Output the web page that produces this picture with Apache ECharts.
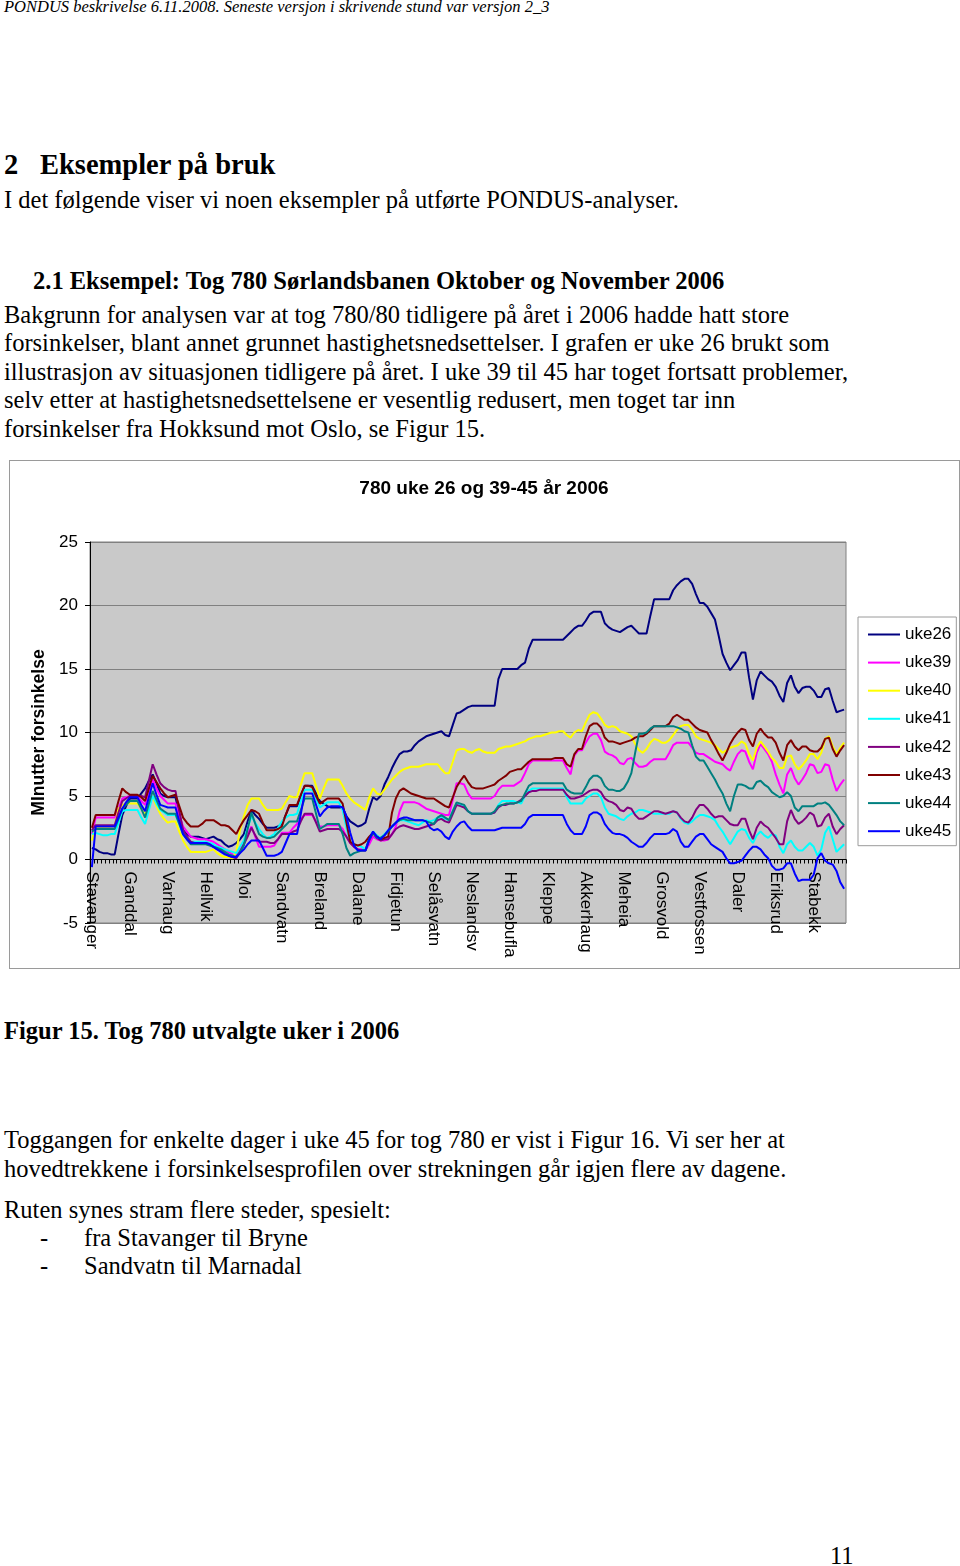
<!DOCTYPE html>
<html><head><meta charset="utf-8">
<script src="https://cdn.jsdelivr.net/npm/echarts@6/dist/echarts.min.js"></script>
<style>
html,body{margin:0;padding:0;background:#fff;}
body{width:960px;height:1566px;position:relative;overflow:hidden;font-family:"Liberation Serif","Times New Roman",serif;color:#000;}
.t{position:absolute;white-space:nowrap;font-size:24.5px;line-height:28px;}
.b{font-weight:bold;}
#frame{position:absolute;left:9px;top:460px;width:951px;height:509px;border:1px solid #9a9a9a;box-sizing:border-box;}
#chart{position:absolute;left:10px;top:461px;width:948px;height:506px;}
</style></head>
<body>
<div class="t" style="left:4px;top:-3px;font-size:16.5px;line-height:20px;font-style:italic;">PONDUS beskrivelse 6.11.2008. Seneste versjon i skrivende stund var versjon 2_3</div>
<div class="t b" style="left:4px;top:149px;font-size:28.5px;line-height:32px;">2</div>
<div class="t b" style="left:40px;top:149px;font-size:28.5px;line-height:32px;">Eksempler på bruk</div>
<div class="t" style="left:4px;top:186px;">I det følgende viser vi noen eksempler på utførte PONDUS-analyser.</div>
<div class="t b" style="left:33px;top:267px;">2.1 Eksempel: Tog 780 Sørlandsbanen Oktober og November 2006</div>
<div class="t" style="left:4px;top:301px;">Bakgrunn for analysen var at tog 780/80 tidligere på året i 2006 hadde hatt store</div>
<div class="t" style="left:4px;top:329px;">forsinkelser, blant annet grunnet hastighetsnedsettelser. I grafen er uke 26 brukt som</div>
<div class="t" style="left:4px;top:358px;">illustrasjon av situasjonen tidligere på året. I uke 39 til 45 har toget fortsatt problemer,</div>
<div class="t" style="left:4px;top:386px;">selv etter at hastighetsnedsettelsene er vesentlig redusert, men toget tar inn</div>
<div class="t" style="left:4px;top:415px;">forsinkelser fra Hokksund mot Oslo, se Figur 15.</div>
<div id="frame"></div>
<div id="chart"></div>
<div class="t b" style="left:4px;top:1017px;">Figur 15. Tog 780 utvalgte uker i 2006</div>
<div class="t" style="left:4px;top:1126px;">Toggangen for enkelte dager i uke 45 for tog 780 er vist i Figur 16. Vi ser her at</div>
<div class="t" style="left:4px;top:1155px;">hovedtrekkene i forsinkelsesprofilen over strekningen går igjen flere av dagene.</div>
<div class="t" style="left:4px;top:1196px;">Ruten synes stram flere steder, spesielt:</div>
<div class="t" style="left:40px;top:1224px;">-</div>
<div class="t" style="left:84px;top:1224px;">fra Stavanger til Bryne</div>
<div class="t" style="left:40px;top:1252px;">-</div>
<div class="t" style="left:84px;top:1252px;">Sandvatn til Marnadal</div>
<div class="t" style="left:830px;top:1542px;">11</div>
<script>
const stations = ["Stavanger","Ganddal","Varhaug","Hellvik","Moi","Sandvatn","Breland","Dalane","Fidjetun","Selåsvatn","Neslandsv","Hansebufla","Kleppe","Akkerhaug","Meheia","Grosvold","Vestfossen","Daler","Eriksrud","Stabekk"];
const seriesNames = ["uke26","uke39","uke40","uke41","uke42","uke43","uke44","uke45"];
const seriesColors = ["#000080","#FF00FF","#FFFF00","#00FFFF","#800080","#800000","#008080","#0000FF"];
const yTicks = [-5,0,5,10,15,20,25];

const uke26 = [0.9,0.8,0.6,0.5,0.5,0.4,0.4,2.0,3.5,4.2,
4.8,4.8,4.8,5.2,5.6,6.2,6.7,6.0,5.2,5.0,
4.9,4.9,4.9,3.6,2.3,2.0,1.8,1.8,1.8,1.7,
1.6,1.7,1.8,1.6,1.5,1.2,1.0,1.1,1.3,1.6,
2.0,3.0,3.9,3.5,3.2,2.8,2.5,2.5,2.5,2.6,
2.8,3.5,4.2,4.2,4.2,5.0,5.8,5.8,5.8,5.2,
4.6,4.4,4.2,4.1,4.1,4.1,4.1,3.4,3.0,2.8,
2.6,2.7,2.9,4.0,4.9,4.7,5.0,5.9,6.5,7.2,
7.8,8.3,8.5,8.5,8.6,9.0,9.3,9.5,9.7,9.8,
9.9,10.0,10.1,9.8,9.7,10.6,11.5,11.6,11.8,12.0,
12.1,12.1,12.1,12.1,12.1,12.1,12.1,14.2,15.0,15.0,
15.0,15.0,15.0,15.3,15.5,16.6,17.3,17.3,17.3,17.3,
17.3,17.3,17.3,17.3,17.3,17.6,17.9,18.2,18.4,18.4,
18.8,19.3,19.5,19.5,19.5,18.6,18.3,18.1,18.0,17.9,
18.1,18.3,18.4,18.1,17.8,17.8,17.8,19.2,20.5,20.5,
20.5,20.5,20.5,21.2,21.6,21.9,22.1,22.1,21.7,20.9,
20.2,20.2,19.9,19.4,18.9,17.6,16.2,15.5,14.9,15.3,
15.7,16.3,16.3,14.3,12.6,14.1,14.8,14.5,14.2,14.0,
13.6,12.9,12.4,13.9,14.5,13.6,13.1,13.5,13.6,13.6,
13.3,12.8,12.8,13.4,13.5,12.5,11.6,11.7,11.8];

const uke39 = [2.0,3.3,3.3,3.3,3.3,3.3,3.3,4.0,4.8,4.9,
5.0,5.0,5.0,4.6,4.3,5.3,6.3,5.6,5.0,4.7,
4.4,4.4,4.4,3.5,2.6,2.2,1.8,1.7,1.6,1.6,
1.6,1.5,1.4,1.2,1.0,0.8,0.6,0.4,0.3,0.8,
1.3,2.0,2.6,1.8,1.0,1.0,1.0,1.0,1.1,1.6,
2.1,2.1,2.1,2.5,2.8,3.2,3.5,3.5,3.5,3.0,
2.6,2.6,2.7,2.7,2.7,2.7,2.4,1.8,1.3,1.0,
0.8,0.8,0.7,1.2,1.8,1.6,1.5,1.5,1.6,2.0,
2.6,3.8,4.5,4.5,4.5,4.5,4.4,4.2,4.0,3.9,
3.8,3.7,3.6,3.5,3.5,4.7,6.0,6.0,5.9,5.2,
4.8,4.8,4.8,4.8,4.8,4.8,5.0,5.5,5.8,5.8,
5.8,5.8,6.0,6.2,6.8,7.5,7.8,7.8,7.8,7.8,
7.8,7.8,7.8,7.8,7.8,7.2,6.7,8.2,8.6,8.6,
9.2,9.7,9.9,9.9,9.4,8.5,8.3,8.2,8.0,7.6,
7.5,7.9,8.0,7.6,7.3,7.3,7.4,7.7,7.9,7.9,
7.9,7.9,8.4,9.0,9.2,9.2,9.2,9.2,8.8,8.4,
8.3,8.3,8.1,7.9,7.7,7.6,7.5,7.2,7.0,7.7,
8.3,8.6,8.5,7.7,7.1,8.4,9.1,8.7,8.3,7.7,
6.7,5.9,5.2,6.7,7.2,6.4,5.9,6.3,6.8,7.5,
7.4,6.8,6.9,7.5,7.4,6.3,5.4,5.9,6.3];

const uke40 = [1.5,2.5,2.5,2.5,2.5,2.6,2.6,4.0,4.3,4.4,
4.4,4.4,4.4,4.0,3.6,4.3,4.9,4.2,3.6,3.2,
2.9,3.0,3.0,2.2,1.5,1.0,0.6,0.6,0.6,0.6,
0.6,0.7,0.8,0.5,0.3,0.2,0.2,0.1,0.6,2.3,
3.4,4.3,4.8,4.8,4.8,4.3,3.9,3.9,3.9,3.9,
4.0,4.5,5.0,4.9,4.9,5.9,6.8,6.8,6.8,5.8,
4.8,5.6,6.3,6.3,6.3,6.3,5.8,5.2,4.8,4.5,
4.3,4.1,3.9,4.9,5.6,5.2,5.1,5.5,5.9,6.3,
6.6,6.9,7.1,7.2,7.3,7.3,7.3,7.4,7.5,7.5,
7.5,7.5,7.1,6.8,6.8,7.7,8.6,8.7,8.7,8.5,
8.4,8.6,8.7,8.5,8.4,8.4,8.4,8.7,8.8,8.9,
8.9,9.0,9.1,9.2,9.3,9.5,9.6,9.7,9.7,9.8,
9.9,10.0,10.0,10.1,10.1,9.8,9.6,10.0,10.2,10.1,
10.8,11.4,11.6,11.5,11.1,10.6,10.4,10.5,10.4,10.1,
10.0,9.9,9.7,9.1,8.6,8.4,8.7,9.2,9.5,9.4,
9.2,9.2,9.4,9.8,10.2,10.5,10.6,10.6,10.2,9.7,
9.5,9.4,9.3,9.2,9.0,8.7,8.4,8.6,8.8,8.9,
9.0,9.3,9.1,8.3,7.8,8.8,9.3,8.9,8.5,8.0,
7.7,7.2,7.2,8.1,8.2,7.5,7.1,7.4,7.8,8.3,
8.3,7.9,8.4,9.5,9.7,8.9,8.3,8.8,9.2];

const uke41 = [2.0,2.1,2.0,1.9,1.9,2.0,2.0,2.9,3.8,3.9,
3.9,3.9,3.9,3.3,2.8,3.9,5.0,4.4,3.9,3.7,
3.5,3.5,3.5,2.8,2.0,1.7,1.4,1.4,1.4,1.4,
1.4,1.3,1.2,1.0,0.9,0.8,0.7,0.6,0.5,1.0,
1.5,2.5,3.4,2.9,2.4,2.0,1.7,1.8,2.0,2.5,
3.0,3.3,3.5,3.5,3.6,4.6,5.5,5.5,5.5,4.8,
4.1,4.3,4.5,4.5,4.5,4.5,3.9,2.5,1.4,1.2,
1.1,1.0,0.8,1.7,2.2,1.9,1.7,2.0,2.3,2.6,
2.9,3.1,3.1,3.0,2.9,2.8,2.7,2.9,3.1,3.0,
3.1,3.3,3.3,3.2,3.1,3.8,4.4,4.3,4.2,3.8,
3.6,3.6,3.6,3.6,3.6,3.6,3.7,4.3,4.6,4.6,
4.6,4.6,4.5,4.4,5.0,5.4,5.6,5.6,5.6,5.6,
5.6,5.6,5.6,5.6,5.6,4.9,4.4,4.4,4.4,4.4,
4.8,5.0,5.2,5.2,4.9,4.1,3.6,3.5,3.4,3.2,
3.1,3.4,3.6,3.7,3.9,3.9,3.8,3.7,3.6,3.6,
3.6,3.6,3.6,3.8,3.7,3.2,2.9,2.8,3.0,3.3,
3.5,3.5,3.4,3.3,3.1,2.6,2.2,1.7,1.2,1.7,
2.2,2.4,2.3,1.7,1.3,1.9,2.2,1.9,1.7,2.0,
1.9,1.0,0.5,1.2,1.5,1.0,0.7,0.7,1.0,1.3,
1.0,0.3,0.8,2.1,2.6,1.6,0.6,0.9,1.2];

const uke42 = [2.3,2.7,2.7,2.7,2.7,2.7,2.7,3.7,4.6,4.8,
5.0,5.0,5.0,5.0,4.9,6.2,7.5,6.7,6.0,5.7,
5.5,5.4,5.4,3.8,2.3,1.8,1.4,1.3,1.3,1.3,
1.3,1.2,1.0,0.8,0.7,0.5,0.3,0.2,0.1,0.6,
1.2,1.8,2.5,1.9,1.4,1.4,1.4,1.3,1.3,1.6,
2.0,2.0,2.0,2.2,2.3,3.0,3.6,3.6,3.6,2.9,
2.2,2.3,2.4,2.4,2.4,2.4,2.2,1.8,1.3,1.0,
0.8,0.7,0.7,1.5,2.1,1.7,1.5,1.6,1.6,2.0,
2.4,2.6,2.7,2.6,2.5,2.4,2.4,2.5,2.6,2.7,
2.8,3.1,3.2,3.0,2.9,3.6,4.3,4.2,4.1,3.8,
3.6,3.6,3.6,3.6,3.6,3.6,3.7,4.1,4.3,4.3,
4.4,4.4,4.5,4.7,5.0,5.3,5.4,5.4,5.5,5.5,
5.5,5.5,5.5,5.5,5.5,5.1,4.8,4.8,4.9,5.0,
5.2,5.4,5.5,5.5,5.3,4.8,4.6,4.5,4.3,3.9,
3.8,4.1,4.0,3.5,3.2,3.2,3.4,3.6,3.8,3.8,
3.7,3.6,3.7,3.8,3.7,3.3,3.0,2.9,3.3,3.9,
4.3,4.3,4.0,3.6,3.3,3.4,3.4,3.1,2.8,2.7,
2.7,3.2,3.2,2.3,1.6,2.5,3.0,2.7,2.5,2.1,
1.7,1.2,1.2,3.0,3.9,3.2,2.8,3.0,3.3,3.7,
3.5,2.6,2.7,3.3,3.6,2.6,2.0,2.4,2.7];

const uke43 = [2.5,3.5,3.5,3.5,3.5,3.5,3.5,4.6,5.6,5.3,
5.1,5.1,5.1,4.9,4.6,5.6,6.6,6.1,5.6,5.2,
4.9,5.0,5.1,4.2,3.3,2.9,2.6,2.6,2.6,2.8,
3.1,3.1,3.1,2.9,2.7,2.7,2.6,2.3,2.0,2.6,
3.1,3.5,3.9,3.8,3.6,2.9,2.3,2.3,2.3,2.4,
2.6,3.5,4.3,4.3,4.3,5.1,5.8,5.8,5.7,5.0,
4.4,4.6,4.8,4.8,4.8,4.8,4.4,2.9,1.4,1.2,
1.1,1.2,1.4,1.8,2.1,1.8,1.6,1.7,1.8,3.7,
4.8,5.4,5.6,5.4,5.2,5.1,5.0,4.9,4.8,4.8,
4.8,4.6,4.4,4.2,4.1,4.9,5.7,6.2,6.6,6.1,
5.7,5.6,5.6,5.6,5.7,5.8,5.9,6.2,6.4,6.6,
6.9,7.0,7.1,7.1,7.4,7.7,7.9,7.9,7.9,7.9,
7.9,7.9,8.0,8.0,8.0,7.5,7.3,8.3,8.7,8.7,
9.7,10.5,10.7,10.7,10.4,9.6,9.3,9.3,9.2,9.1,
9.2,9.3,9.4,9.6,9.7,9.7,9.9,10.2,10.5,10.5,
10.5,10.5,10.7,11.2,11.4,11.2,11.0,11.0,10.7,10.4,
10.2,10.1,10.0,9.4,8.9,8.3,7.8,8.4,9.1,9.6,
10.0,10.3,10.2,9.4,8.9,9.9,10.3,9.9,9.6,9.6,
9.2,8.4,7.8,9.0,9.4,8.9,8.6,8.9,8.9,8.6,
8.5,8.5,8.8,9.5,9.6,8.7,8.1,8.6,9.0];

const uke44 = [2.2,2.4,2.4,2.4,2.4,2.4,2.4,3.2,4.0,4.3,
4.6,4.6,4.6,4.0,3.3,4.4,5.4,4.7,4.0,3.8,
3.6,3.6,3.6,2.8,2.0,1.6,1.2,1.2,1.2,1.2,
1.2,1.1,1.0,0.9,0.8,0.6,0.4,0.3,0.2,0.6,
1.1,2.4,3.7,2.8,2.0,1.8,1.7,1.7,1.8,2.1,
2.4,2.7,3.0,3.0,3.0,3.9,4.8,4.8,4.8,3.6,
2.4,2.6,2.8,2.8,2.8,2.8,2.0,0.9,0.3,0.5,
0.6,0.7,0.7,1.6,2.1,1.7,1.7,1.9,2.2,2.6,
2.9,3.1,3.2,3.1,3.1,3.1,3.1,3.1,3.0,2.9,
2.8,3.3,3.5,3.3,3.1,3.8,4.5,4.4,4.3,3.8,
3.6,3.6,3.6,3.6,3.6,3.6,3.8,4.2,4.3,4.4,
4.4,4.4,4.5,4.6,5.2,5.8,6.0,6.0,6.0,6.0,
6.0,6.0,6.0,6.0,6.0,5.5,5.3,5.2,5.2,5.2,
5.7,6.3,6.6,6.6,6.4,5.8,5.5,5.5,5.4,5.4,
5.6,6.1,6.8,8.4,9.9,9.9,10.0,10.3,10.5,10.5,
10.5,10.5,10.5,10.5,10.4,10.3,10.1,10.0,9.0,8.1,
7.8,7.8,7.3,6.8,6.3,5.7,5.2,4.4,3.8,5.0,
5.9,5.9,5.8,5.6,5.6,6.1,6.2,5.9,5.7,5.3,
5.1,4.9,5.0,5.3,5.0,4.1,3.8,4.2,4.2,4.2,
4.2,4.4,4.4,4.5,4.3,3.9,3.5,3.0,2.7];

const uke45 = [-0.6,2.6,2.6,2.6,2.6,2.6,2.6,3.3,4.0,4.5,
4.9,4.9,4.9,4.3,3.8,4.9,6.0,5.1,4.3,4.2,
4.1,4.1,4.1,3.0,2.0,1.6,1.3,1.3,1.3,1.3,
1.3,1.2,1.0,0.8,0.6,0.4,0.3,0.2,0.2,0.5,
0.8,1.2,1.5,1.5,1.5,0.9,0.3,0.3,0.3,0.4,
0.6,1.3,2.0,2.0,2.0,3.6,5.2,5.2,5.2,4.3,
3.4,3.8,4.1,4.2,4.2,4.2,4.1,3.4,2.1,1.1,
0.7,0.7,0.7,1.6,2.2,1.8,1.6,1.9,2.3,2.6,
2.9,3.2,3.3,3.3,3.2,3.1,3.1,3.1,3.0,2.5,
2.3,2.4,2.2,1.8,1.6,2.2,2.6,2.9,3.0,2.6,
2.3,2.3,2.3,2.3,2.3,2.3,2.3,2.4,2.5,2.5,
2.5,2.5,2.5,2.5,2.8,3.3,3.5,3.5,3.5,3.5,
3.5,3.5,3.5,3.5,3.5,2.8,2.3,2.0,2.0,2.0,
2.6,3.5,3.7,3.7,3.5,2.8,2.4,2.1,2.0,2.0,
1.9,1.7,1.4,1.2,1.0,1.0,1.3,1.7,2.0,2.0,
2.0,2.0,2.1,2.4,2.2,1.4,1.0,1.0,1.4,1.8,
2.0,2.0,1.6,1.2,1.0,0.8,0.6,0.1,-0.3,-0.3,
-0.2,-0.1,0.3,0.7,1.0,1.0,0.8,0.4,0.1,-0.5,
-0.8,-0.8,-0.7,-0.3,-0.3,-1.1,-1.7,-1.6,-1.6,-1.6,
-1.2,0.1,0.5,-0.1,-0.3,-0.4,-0.9,-1.8,-2.3];

const seriesData = [uke26, uke39, uke40, uke41, uke42, uke43, uke44, uke45];
// one category per measuring point; every 10th point carries a station label
const nPoints = uke26.length;
const categories = [];
for (let i = 0; i < nPoints; i++) categories.push(i % 10 === 0 ? stations[i / 10] : '');

const SANS = '"Liberation Sans", Arial, sans-serif';
const GRID_H = 381;
const yMin = yTicks[0], yMax = yTicks[yTicks.length - 1];
// the category axis sits on the value 0, as in the original chart
const zeroOffset = -GRID_H * (0 - yMin) / (yMax - yMin);

const chart = echarts.init(document.getElementById('chart'), null, {renderer: 'canvas'});
chart.setOption({
  animation: false,
  title: {
    text: '780 uke 26 og 39-45 år 2006',
    left: 'center', top: 18, padding: 0,
    textStyle: {fontFamily: SANS, fontSize: 19, fontWeight: 'bold', color: '#000'}
  },
  grid: {
    left: 80, top: 81, width: 756, height: GRID_H,
    outerBoundsMode: 'none', containLabel: false,
    show: true, backgroundColor: '#C9C9C9', borderColor: '#808080', borderWidth: 1
  },
  legend: {
    orient: 'vertical', left: 848, top: 156,
    itemWidth: 32, itemHeight: 14, itemGap: 11.1,
    padding: [9, 5, 6, 9],
    borderColor: '#9a9a9a', borderWidth: 1,
    itemStyle: {opacity: 0},
    textStyle: {fontFamily: SANS, fontSize: 17, color: '#000'},
    data: seriesNames
  },
  xAxis: {
    type: 'category', data: categories, boundaryGap: true,
    position: 'bottom', offset: zeroOffset,
    axisLine: {onZero: false, lineStyle: {color: '#000', width: 1}},
    axisTick: {show: true, interval: 0, length: 4, lineStyle: {color: '#000'}},
    axisLabel: {interval: 9, rotate: -90, margin: 12, fontFamily: SANS, fontSize: 17, color: '#000'},
    splitLine: {show: false}
  },
  yAxis: {
    type: 'value', min: yMin, max: yMax, interval: 5,
    name: 'MInutter forsinkelse', nameLocation: 'middle', nameGap: 38, nameRotate: 90,
    nameTextStyle: {fontFamily: SANS, fontSize: 17.5, fontWeight: 'bold', color: '#000'},
    axisLine: {show: true, lineStyle: {color: '#000', width: 1}},
    axisTick: {show: true, length: 5, lineStyle: {color: '#000'}},
    axisLabel: {margin: 12, fontFamily: SANS, fontSize: 17, color: '#000'},
    splitLine: {show: true, lineStyle: {color: '#808080', width: 1}}
  },
  series: seriesNames.map((n, k) => ({
    name: n, type: 'line', data: seriesData[k],
    symbol: 'none', color: seriesColors[k],
    lineStyle: {width: 2, color: seriesColors[k]},
    emphasis: {disabled: true}
  }))
});
</script>
</body></html>
